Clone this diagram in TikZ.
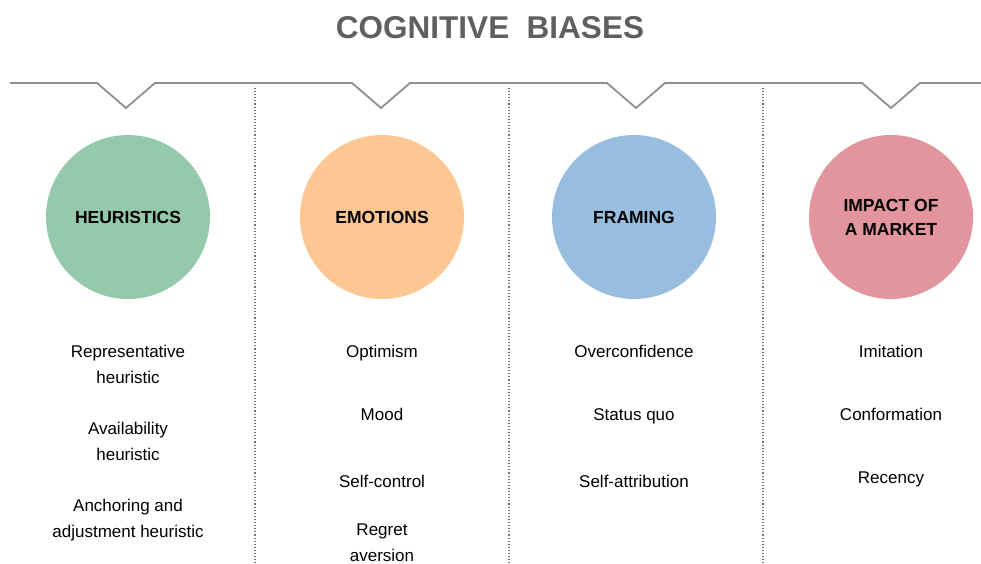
\documentclass[tikz,border=0pt]{standalone}
\usepackage{fontspec}
\setmainfont{Liberation Sans}
\usepackage{tikz}
\usetikzlibrary{calc}
\definecolor{titlegray}{HTML}{5F5F5F}
\definecolor{linegray}{HTML}{8F8F8F}
\definecolor{cgreen}{HTML}{94C9AB}
\definecolor{corange}{HTML}{FDC794}
\definecolor{cblue}{HTML}{99BDDF}
\definecolor{cpink}{HTML}{E3959E}

\begin{document}
\begin{tikzpicture}[x=1pt, y=-1pt,
  bubble/.style={circle, minimum size=164pt, inner sep=0pt, draw=none},
  head/.style={font=\fontsize{17.5}{24}\selectfont\bfseries, align=center, text=black},
  item/.style={font=\fontsize{17}{26}\selectfont, align=center, anchor=base, text=black}]
\useasboundingbox (0,0) rectangle (981,564);
\node[font=\fontsize{31.5}{34}\selectfont\bfseries, text=titlegray, anchor=base] (title) at (490,39) {COGNITIVE\ \ BIASES};
% top rail with notches
\draw[linegray, line width=1.8pt]
  (10,83)
  \foreach \c in {126,381,636,891} { -- (\c-29,83) -- (\c,108) -- (\c+29,83) }
  -- (981,83);
\foreach \s in {255,509,763} \draw[black!55, dotted, line width=1.1pt] (\s,88)--(\s,564);
% circles
\node[bubble, fill=cgreen] (heur) at (128,217) {};
\node[bubble, fill=corange] (emot) at (382,217) {};
\node[bubble, fill=cblue] (fram) at (634,217) {};
\node[bubble, fill=cpink] (mark) at (891,217) {};
\node[head] at (heur) {HEURISTICS};
\node[head] at (emot) {EMOTIONS};
\node[head] at (fram) {FRAMING};
\node[head] at (mark) {IMPACT OF\\A MARKET};
% lists (base = last line)
\path
(128,383) node[item] (h1) {Representative\\heuristic}
(128,460) node[item] (h2) {Availability\\heuristic}
(128,537) node[item] (h3) {Anchoring and\\adjustment heuristic};
\path
(382,357) node[item] (e1) {Optimism}
(382,420) node[item] (e2) {Mood}
(382,487) node[item] (e3) {Self-control}
(382,561) node[item] (e4) {Regret\\aversion};
\path
(634,357) node[item] (f1) {Overconfidence}
(634,420) node[item] (f2) {Status quo}
(634,487) node[item] (f3) {Self-attribution};
\path
(891,357) node[item] (m1) {Imitation}
(891,420) node[item] (m2) {Conformation}
(891,483) node[item] (m3) {Recency};
\end{tikzpicture}
\end{document}
